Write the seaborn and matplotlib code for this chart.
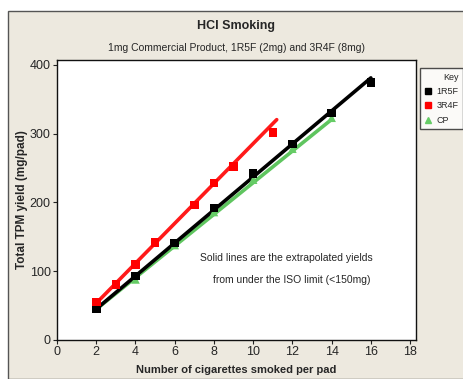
import numpy as np
import pandas as pd
import matplotlib
matplotlib.use("Agg")
import matplotlib.pyplot as plt
import seaborn as sns
from matplotlib.patches import Rectangle

# ---- data ----
x_1r5f = [2, 4, 6, 8, 10, 12, 14, 16]
y_1r5f = [45, 93, 141, 192, 242, 285, 330, 374]
x_3r4f = [2, 3, 4, 5, 7, 8, 9, 11]
y_3r4f = [55, 81, 110, 142, 196, 228, 252, 302]
x_cp = [2, 4, 6, 8, 10, 12, 14]
y_cp = [46, 88, 138, 186, 233, 278, 323]
series_names = ["1R5F", "3R4F", "CP"]
fit_end = [16, 11.2, 14]
iso_limit = 150
x_ticks = [0, 2, 4, 6, 8, 10, 12, 14, 16, 18]
y_ticks = [0, 100, 200, 300, 400]

colors = {"1R5F": "#000000", "3R4F": "#ff0000", "CP": "#66cc66"}
line_colors = {"1R5F": "#000000", "3R4F": "#ff1a1a", "CP": "#5fc55f"}
markers = {"1R5F": "s", "3R4F": "s", "CP": "^"}

frames = []
for name, xs, ys in zip(series_names, [x_1r5f, x_3r4f, x_cp], [y_1r5f, y_3r4f, y_cp]):
    frames.append(pd.DataFrame({"x": xs, "y": ys, "series": name}))
df = pd.concat(frames, ignore_index=True)

sns.set_style("ticks")
plt.rcParams['font.family'] = ['Liberation Sans Narrow', 'Liberation Sans', 'DejaVu Sans']

bg = "#ede9df"
fig = plt.figure(figsize=(4.64, 3.79), dpi=100)
fig.patch.set_facecolor("white")
# outer frame
frame = Rectangle((7.5 / 464, 0), 1.0, 1 - 10.5 / 379, transform=fig.transFigure,
                  facecolor=bg, edgecolor="#555555", linewidth=1.0, zorder=-10)
fig.patches.append(frame)

ax = fig.add_axes([57 / 464, 39 / 379, (416 - 57) / 464, (340 - 60) / 379])
ax.set_zorder(1)
ax.set_facecolor("white")

# fitted lines (from points under ISO limit), drawn in order so green is under black
order = ["CP", "1R5F", "3R4F"]
for name in order:
    sub = df[df.series == name]
    under = sub[sub.y < iso_limit]
    k, b = np.polyfit(under.x, under.y, 1)
    xe = fit_end[series_names.index(name)]
    xl = np.array([sub.x.min(), xe])
    ldf = pd.DataFrame({"x": xl, "y": k * xl + b})
    sns.lineplot(data=ldf, x="x", y="y", ax=ax, color=line_colors[name], linewidth=2.6,
                 legend=False, zorder=2)

for name in order:
    sub = df[df.series == name]
    sns.scatterplot(data=sub, x="x", y="y", ax=ax, color=colors[name], marker=markers[name],
                    s=38, edgecolor="none", legend=False, zorder=3)

ax.set_xlim(0, 18.3)
ax.set_ylim(0, 407)
ax.set_xticks(x_ticks)
ax.set_yticks(y_ticks)
ax.tick_params(axis="both", direction="out", length=3, width=0.8, labelsize=9, pad=1.5,
               color="#222222")
for sp in ax.spines.values():
    sp.set_linewidth(1.0)
    sp.set_color("#111111")

ax.set_xlabel("Number of cigarettes smoked per pad", fontsize=8, fontweight="bold", labelpad=5)
ax.set_ylabel("Total TPM yield (mg/pad)", fontsize=8.5, fontweight="bold", labelpad=1)

ax.text(11.7, 119, "Solid lines are the extrapolated yields", fontsize=7.5, ha="center", va="center")
ax.text(11.95, 87, "from under the ISO limit (<150mg)", fontsize=7.5, ha="center", va="center")

fig.text(236 / 464, 1 - 26 / 379, "HCI Smoking", fontsize=9, fontweight="bold", ha="center", va="center")
fig.text(237 / 464, 1 - 48 / 379, "1mg Commercial Product, 1R5F (2mg) and 3R4F (8mg)", fontsize=7.5,
         ha="center", va="center")

# legend ("Key")
handles = [plt.Line2D([], [], linestyle="none", marker=markers[n], color=colors[n], markersize=4.5)
           for n in series_names]
leg = fig.legend(handles, series_names, title="Key", loc="upper left",
                 bbox_to_anchor=(420 / 464, 1 - 68 / 379), fontsize=6.5, title_fontsize=6.5,
                 frameon=True, fancybox=False, edgecolor="#222222", handlelength=0.8,
                 handletextpad=0.5, borderpad=0.5, labelspacing=0.6, borderaxespad=0)
leg.get_frame().set_linewidth(1.0)
leg.get_frame().set_facecolor("white")
leg._legend_box.align = "right"

fig.savefig("out.png", dpi=100, facecolor=fig.get_facecolor())
